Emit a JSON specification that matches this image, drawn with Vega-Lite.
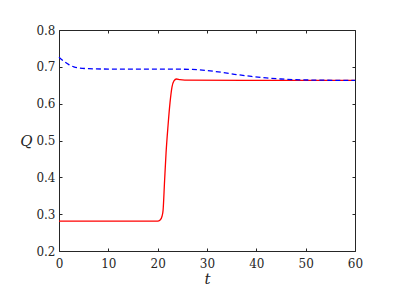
{
  "$schema": "https://vega.github.io/schema/vega-lite/v6.json",
  "width": 296,
  "height": 221,
  "autosize": {"type": "none"},
  "padding": {"left": 59, "top": 30, "right": 40, "bottom": 45},
  "background": "white",
  "config": {
    "view": {"stroke": null},
    "axis": {
      "grid": false,
      "domainColor": "#262626",
      "tickColor": "#262626",
      "labelColor": "#262626",
      "titleColor": "#262626",
      "labelFont": "DejaVu Serif",
      "titleFont": "DejaVu Serif",
      "labelFontSize": 12,
      "titleFontSize": 15,
      "tickSize": -3,
      "labelFlush": false,
      "labelFontWeight": "normal",
      "titleFontWeight": "normal"
    }
  },
  "data": {
    "values": [
      {"series": "a", "t": 0, "Q": 0.281},
      {"series": "a", "t": 20, "Q": 0.281},
      {"series": "a", "t": 20.5, "Q": 0.284},
      {"series": "a", "t": 20.9, "Q": 0.295},
      {"series": "a", "t": 21.1, "Q": 0.311},
      {"series": "a", "t": 21.4, "Q": 0.39},
      {"series": "a", "t": 21.7, "Q": 0.466},
      {"series": "a", "t": 22.1, "Q": 0.54},
      {"series": "a", "t": 22.5, "Q": 0.602},
      {"series": "a", "t": 22.9, "Q": 0.645},
      {"series": "a", "t": 23.3, "Q": 0.662},
      {"series": "a", "t": 23.8, "Q": 0.667},
      {"series": "a", "t": 24.5, "Q": 0.665},
      {"series": "a", "t": 25.5, "Q": 0.664},
      {"series": "a", "t": 60, "Q": 0.663},
      {"series": "b", "t": 0, "Q": 0.726},
      {"series": "b", "t": 1, "Q": 0.715},
      {"series": "b", "t": 2, "Q": 0.706},
      {"series": "b", "t": 3, "Q": 0.7},
      {"series": "b", "t": 4, "Q": 0.697},
      {"series": "b", "t": 6, "Q": 0.695},
      {"series": "b", "t": 10, "Q": 0.694},
      {"series": "b", "t": 20, "Q": 0.694},
      {"series": "b", "t": 27, "Q": 0.693},
      {"series": "b", "t": 30, "Q": 0.69},
      {"series": "b", "t": 33, "Q": 0.685},
      {"series": "b", "t": 36, "Q": 0.679},
      {"series": "b", "t": 39, "Q": 0.674},
      {"series": "b", "t": 42, "Q": 0.67},
      {"series": "b", "t": 45, "Q": 0.667},
      {"series": "b", "t": 48, "Q": 0.665},
      {"series": "b", "t": 52, "Q": 0.664},
      {"series": "b", "t": 60, "Q": 0.663}
    ]
  },
  "layer": [
    {
      "transform": [{"filter": "datum.series === 'a'"}],
      "mark": {"type": "line", "color": "#ff0000", "strokeWidth": 1.3, "interpolate": "monotone"},
      "encoding": {
        "x": {
          "field": "t", "type": "quantitative",
          "scale": {"domain": [0, 60], "nice": false},
          "axis": {"orient": "bottom", "values": [0, 10, 20, 30, 40, 50, 60], "title": "t", "titleFontStyle": "italic", "labelPadding": 10, "titleBaseline": "middle", "titleY": 27, "titleX": 148}
        },
        "y": {
          "field": "Q", "type": "quantitative",
          "scale": {"domain": [0.2, 0.8], "nice": false, "zero": false},
          "axis": {"orient": "left", "values": [0.2, 0.3, 0.4, 0.5, 0.6, 0.7, 0.8], "format": ".1f", "title": "Q", "titleFontStyle": "italic", "titleAngle": 0, "titleAlign": "center", "titleBaseline": "middle", "titleX": -33, "titleY": 110, "labelPadding": 7}
        }
      }
    },
    {
      "transform": [{"filter": "datum.series === 'b'"}],
      "mark": {"type": "line", "color": "#0000ff", "strokeWidth": 1.3, "strokeDash": [5, 3], "interpolate": "monotone"},
      "encoding": {
        "x": {
          "field": "t", "type": "quantitative",
          "axis": {"orient": "top", "values": [0, 10, 20, 30, 40, 50, 60], "labels": false, "title": null}
        },
        "y": {
          "field": "Q", "type": "quantitative",
          "axis": {"orient": "right", "values": [0.2, 0.3, 0.4, 0.5, 0.6, 0.7, 0.8], "labels": false, "title": null}
        }
      }
    }
  ],
  "resolve": {"axis": {"x": "independent", "y": "independent"}}
}
